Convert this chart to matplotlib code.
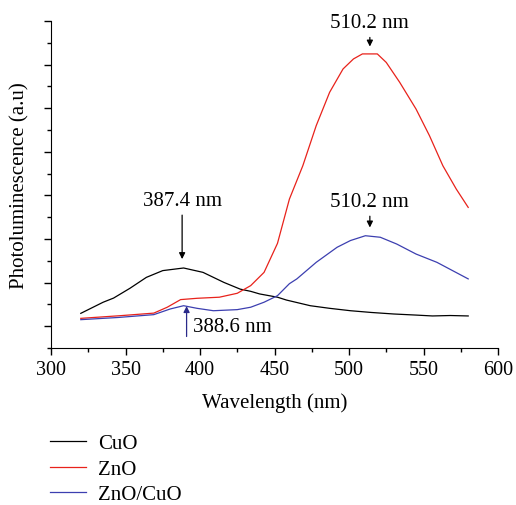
import numpy as np
import matplotlib
matplotlib.use("Agg")
import matplotlib.pyplot as plt

# spectra (wavelength nm, intensity a.u.)
cuo_x = [320, 335, 342, 353, 364, 375, 389, 402, 416, 427, 434, 440, 452, 458, 474, 487, 501, 515, 530, 545, 556, 568, 580]
cuo_y = [1.59, 2.1, 2.29, 2.74, 3.24, 3.55, 3.67, 3.47, 3.01, 2.7, 2.6, 2.48, 2.33, 2.2, 1.94, 1.82, 1.71, 1.63, 1.56, 1.51, 1.47, 1.49, 1.47]

zno_x = [320, 346, 369, 378, 387, 398, 413, 425, 434, 443, 452, 460, 469, 478, 487, 496, 503, 509, 519, 525, 534, 545, 554, 563, 572, 580]
zno_y = [1.36, 1.48, 1.6, 1.87, 2.22, 2.28, 2.33, 2.51, 2.86, 3.47, 4.8, 6.83, 8.36, 10.2, 11.73, 12.8, 13.26, 13.49, 13.49, 13.1, 12.19, 10.96, 9.74, 8.36, 7.29, 6.45]

znocuo_x = [320, 345, 369, 380, 389, 398, 409, 425, 434, 443, 452, 460, 465, 478, 492, 501, 511, 521, 532, 545, 559, 580]
znocuo_y = [1.3, 1.4, 1.53, 1.79, 1.94, 1.82, 1.71, 1.76, 1.87, 2.1, 2.4, 2.95, 3.17, 3.93, 4.62, 4.93, 5.15, 5.08, 4.77, 4.31, 3.93, 3.17]

labels = ["CuO", "ZnO", "ZnO/CuO"]
colors = ["#000000", "#e8221b", "#3c3fb0"]

plt.rcParams['font.family'] = ['Liberation Serif', 'DejaVu Serif']
fs = 15

fig = plt.figure(figsize=(5.16, 5.06), dpi=100)
ax = fig.add_axes([51/516, 1-349/506, (498-51)/516, (349-22)/506])

h1, = ax.plot(cuo_x, cuo_y, color=colors[0], lw=0.9, label=labels[0])
h2, = ax.plot(zno_x, zno_y, color=colors[1], lw=0.9, label=labels[1])
h3, = ax.plot(znocuo_x, znocuo_y, color=colors[2], lw=0.9, label=labels[2])

ax.set_xlim(300, 600)
ax.set_ylim(0, 15)
ax.set_xticks(np.arange(300, 601, 50))
ax.set_xticks(np.arange(325, 600, 50), minor=True)
ax.set_yticks(np.arange(1, 16, 2))
ax.set_yticks(np.arange(0, 15, 2), minor=True)
ax.set_yticklabels([])
ax.spines['top'].set_visible(False)
ax.spines['right'].set_visible(False)
ax.tick_params(which='major', length=5, width=1, labelsize=14.5)
ax.tick_params(which='minor', length=3, width=1)
ax.set_xlabel("Wavelength (nm)", fontsize=fs, labelpad=10)
ax.set_ylabel("Photoluminescence (a.u)", fontsize=fs, labelpad=7)

arrow = dict(arrowstyle='-|>', color='black', lw=0.9, mutation_scale=9)
ax.annotate("387.4 nm", xy=(388, 3.95), xytext=(388, 6.35), ha='center', va='bottom',
            fontsize=fs, arrowprops=arrow)
ax.annotate("510.2 nm", xy=(514, 13.7), xytext=(514, 14.5), ha='center', va='bottom',
            fontsize=fs, arrowprops=arrow)
ax.annotate("510.2 nm", xy=(514, 5.4), xytext=(514, 6.3), ha='center', va='bottom',
            fontsize=fs, arrowprops=arrow)
ax.annotate("", xy=(391, 2.05), xytext=(391, 0.4),
            arrowprops=dict(arrowstyle='-|>', color='#2a2a8a', lw=0.9, mutation_scale=9))
ax.text(395, 1.0, "388.6 nm", fontsize=fs, ha='left', va='center')

fig.legend(handles=[h1, h2, h3], loc='upper left', bbox_to_anchor=(0.081, 0.157),
           frameon=False, fontsize=fs, handlelength=1.7, handletextpad=0.6,
           labelspacing=0.28, borderaxespad=0)

fig.savefig("out.png", dpi=100)
